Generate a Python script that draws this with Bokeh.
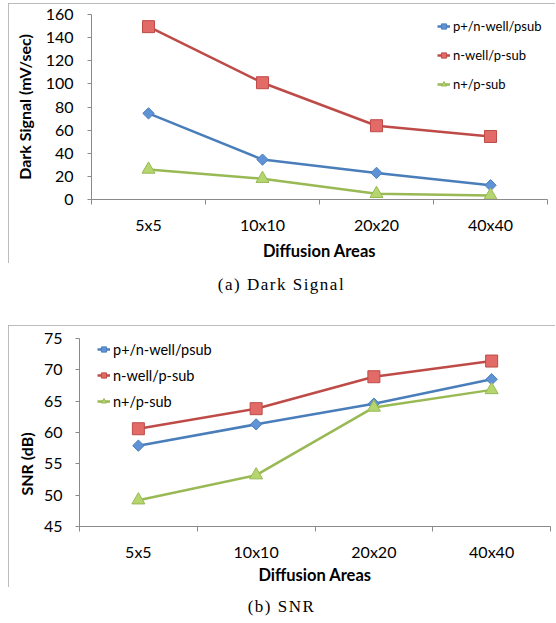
import math
from bokeh.plotting import figure
from bokeh.models import Range1d, FixedTicker, Legend, LegendItem, Title, Div
from bokeh.layouts import column
from bokeh.embed import file_html
from bokeh.resources import INLINE

# ---------------- data ----------------
categories = ["5x5", "10x10", "20x20", "40x40"]
series_names = ["p+/n-well/psub", "n-well/p-sub", "n+/p-sub"]

dark_p_nwell_psub = [74.5, 34.5, 23.0, 12.3]
dark_nwell_psub = [149.5, 101.0, 63.8, 54.5]
dark_nplus_psub = [26.0, 18.0, 5.0, 3.5]

snr_p_nwell_psub = [57.9, 61.3, 64.6, 68.5]
snr_nwell_psub = [60.6, 63.8, 68.9, 71.4]
snr_nplus_psub = [49.2, 53.2, 64.0, 66.8]

dark_ticks = [0, 20, 40, 60, 80, 100, 120, 140, 160]
snr_ticks = [45, 50, 55, 60, 65, 70, 75]

# ---------------- styling ----------------
FONT = "Lato"
AXIS_COLOR = "#8a8a8a"
BOX_STYLE = {"outline": "1px solid #a6a6a6", "outline-offset": "-1px"}
series_styles = [
    dict(line="#4A7EBB", fill="#5F93D6", marker="square", angle=math.pi / 4, size=8),
    dict(line="#BE4B48", fill="#E26A67", marker="square", angle=0.0, size=12),
    dict(line="#98B954", fill="#B5D56E", marker="triangle", angle=0.0, size=13),
]

xpos = [i + 0.5 for i in range(len(categories))]
bounds = [float(i) for i in range(len(categories) + 1)]
label_map = {x: c for x, c in zip(xpos, categories)}


def make_fig(width, height, borders, y_start, y_end, yticks, series, legend_loc,
             legend_font, legend_spacing, legend_row, x_label_standoff, x_title_standoff,
             y_label_standoff):
    left, right, top, bottom = borders
    p = figure(width=width, height=height, output_backend="svg", toolbar_location=None,
               x_range=Range1d(0, len(categories)), y_range=Range1d(y_start, y_end),
               min_border_left=left, min_border_right=right,
               min_border_top=top, min_border_bottom=bottom, margin=0,
               frame_align=False)
    p.styles = BOX_STYLE
    p.outline_line_color = None
    p.xgrid.visible = False
    p.ygrid.visible = False

    xa = p.xaxis[0]
    xa.ticker = FixedTicker(ticks=xpos, minor_ticks=bounds)
    xa.major_label_overrides = label_map
    xa.major_tick_out = 0
    xa.major_tick_in = 0
    xa.minor_tick_out = 5
    xa.minor_tick_in = 0
    xa.minor_tick_line_color = AXIS_COLOR
    xa.axis_line_color = AXIS_COLOR
    xa.major_label_text_font = FONT
    xa.major_label_text_font_size = "16px"
    xa.major_label_text_color = "#000000"
    xa.major_label_standoff = x_label_standoff
    xa.axis_label = "Diffusion Areas"
    xa.axis_label_text_font = FONT
    xa.axis_label_text_font_size = "16.5px"
    xa.axis_label_text_font_style = "bold"
    xa.axis_label_text_color = "#000000"
    xa.axis_label_standoff = x_title_standoff

    ya = p.yaxis[0]
    ya.ticker = FixedTicker(ticks=yticks, minor_ticks=[])
    ya.major_tick_out = 4
    ya.major_tick_in = 0
    ya.minor_tick_out = 0
    ya.minor_tick_in = 0
    ya.major_tick_line_color = AXIS_COLOR
    ya.axis_line_color = AXIS_COLOR
    ya.major_label_text_font = FONT
    ya.major_label_text_font_size = "16px"
    ya.major_label_text_color = "#000000"
    ya.major_label_standoff = y_label_standoff

    items = []
    for name, vals, st in zip(series_names, series, series_styles):
        ln = p.line(xpos, vals, line_color=st["line"], line_width=2.5)
        sc = p.scatter(xpos, vals, marker=st["marker"], angle=st["angle"], size=st["size"],
                       fill_color=st["fill"], line_color=st["line"], line_width=1)
        items.append(LegendItem(label=name, renderers=[ln, sc]))

    legend = Legend(items=items, location=legend_loc, orientation="vertical",
                    glyph_width=13, glyph_height=legend_row, label_height=legend_row,
                    label_standoff=3, spacing=legend_spacing, padding=0, margin=0,
                    border_line_alpha=0, background_fill_alpha=0,
                    label_text_font=FONT, label_text_font_size=legend_font,
                    label_text_color="#000000")
    p.add_layout(legend)
    return p


# ---------------- chart (a) ----------------
p1 = make_fig(547, 260, (83, 8, 11, 63), 0, 160, dark_ticks,
              [dark_p_nwell_psub, dark_nwell_psub, dark_nplus_psub],
              (346, 107), "13px", 13, 16, 10, 4, 14)
p1.yaxis[0].axis_label = "Dark Signal (mV/sec)"
p1.yaxis[0].axis_label_text_font = FONT
p1.yaxis[0].axis_label_text_font_size = "16px"
p1.yaxis[0].axis_label_text_font_style = "bold"
p1.yaxis[0].axis_label_text_color = "#000000"
p1.yaxis[0].axis_label_standoff = 9

# ---------------- chart (b) ----------------
p2 = make_fig(547, 262, (71, 5, 13, 60), 45, 75, snr_ticks,
              [snr_p_nwell_psub, snr_nwell_psub, snr_nplus_psub],
              (18, 116), "14.5px", 8, 18, 10, 1, 13)
p2.add_layout(Title(text="SNR (dB)", align="left", offset=31, text_font=FONT,
                    text_font_size="16px", text_font_style="bold", text_color="#000000"),
              "left")

CAP = ("font-family:'Liberation Serif','Times New Roman',serif;font-size:17px;"
       "letter-spacing:1.5px;text-align:center;width:547px;color:#000;")
d1 = Div(text=f"<div style=\"{CAP}padding-top:12px;line-height:20px;\">(a) Dark Signal</div>",
         width=547, height=62, margin=0)
d2 = Div(text=f"<div style=\"{CAP}padding-top:10px;line-height:20px;\">(b) SNR</div>",
         width=547, height=30, margin=0)

layout = column(p1, d1, p2, d2, spacing=0, margin=(3, 0, 0, 8))

open("out.html", "w").write(file_html(layout, INLINE))
